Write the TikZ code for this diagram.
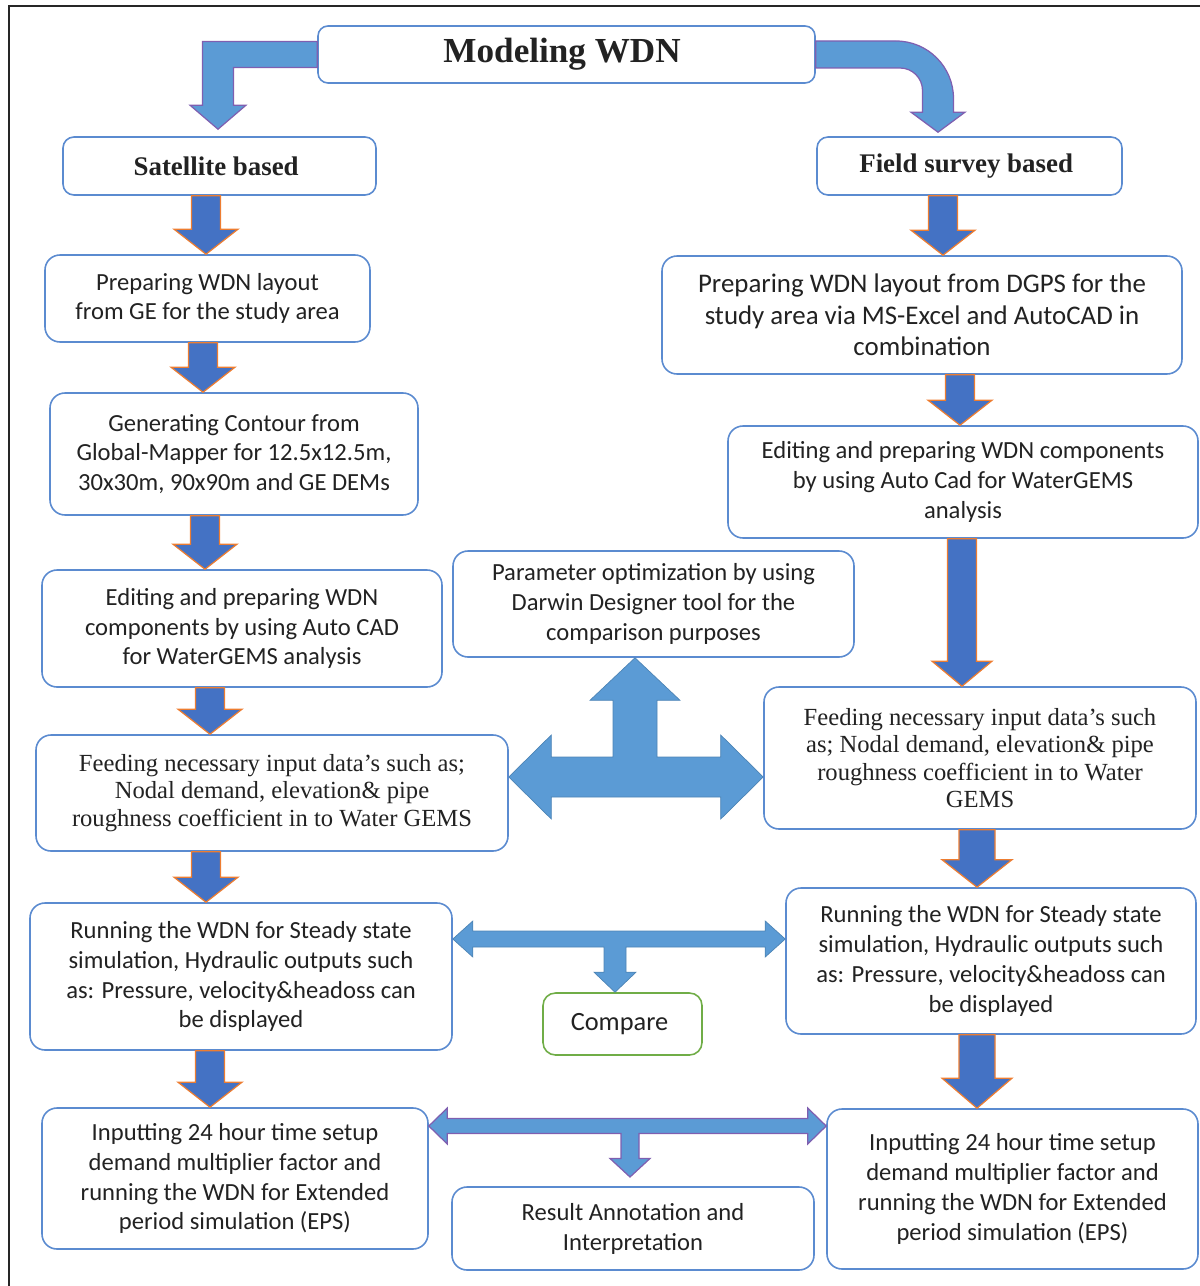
\documentclass[tikz,border=0pt]{standalone}
\usepackage{fontspec}
\setmainfont{Liberation Serif}
\newfontfamily\calfont{Carlito}
\usepackage{xcolor}
\usepackage{tikz}
\usetikzlibrary{positioning, calc}

\definecolor{boxblue}{HTML}{5B8BD0}
\definecolor{textdark}{HTML}{222222}
\definecolor{arrowblue}{HTML}{4472C4}
\definecolor{arroworange}{HTML}{ED7D31}
\definecolor{lightarrow}{HTML}{5B9BD5}
\definecolor{bentedge}{HTML}{7F5FB0}
\definecolor{cmpgreen}{HTML}{70AD47}

\tikzset{
	%
	% Fat down arrow: shaft half width / head half width / head length
	%
	FATDOWN/.style args={#1/#2/#3}{
		to path={
			let \p1=(\tikztostart), \p2=(\tikztotarget) in
			({\x1-#1},\y1) -- ({\x1+#1},\y1) -- ({\x1+#1},{\y2+#3}) -- ({\x1+#2},{\y2+#3})
			-- (\x1,\y2) -- ({\x1-#2},{\y2+#3}) -- ({\x1-#1},{\y2+#3}) -- cycle
		}
	},
}

\tikzstyle{BOX}   = [draw=boxblue,      % color for LINES
                     line width=0.9pt,
                     rounded corners=0.3cm,
                     fill=white,
                     text=textdark,
                     align=center,
                     font=\calfont\fontsize{14}{17}\selectfont]
\tikzstyle{BOXB}  = [BOX, font=\calfont\fontsize{15.3}{18}\selectfont]
\tikzstyle{BOXS}  = [BOX, font=\fontsize{14}{15.6}\selectfont]
\tikzstyle{HEAD}  = [BOX, rounded corners=0.22cm, font=\bfseries\fontsize{15.3}{18}\selectfont]
\tikzstyle{BOXT}  = [BOX, rounded corners=0.2cm, font=\bfseries\fontsize{20}{24}\selectfont]
\tikzstyle{CMP}   = [BOX, draw=cmpgreen, rounded corners=0.25cm, font=\calfont\fontsize{15}{18}\selectfont]
\tikzstyle{DARROW} = [fill=arrowblue, draw=arroworange, line width=0.7pt]
\tikzstyle{BENT}  = [fill=lightarrow, draw=bentedge, line width=0.7pt]
\tikzstyle{TEE}   = [fill=lightarrow, draw=lightarrow!85!black, line width=0.4pt]
\tikzstyle{FRAME} = [draw=black!85, line width=1.2pt]

% left end, right end, stem end, junction, bar half, head half, head length, stem half, stem head half
\newcommand{\teearrow}[9]{%
	\path[TEE] let \p1=(#1), \p2=(#2), \p4=(#4), \p3=(#3 -| #4),
		\p5=($(#3 -| #4)!#7!(#4)$), \n1={ifthenelse(\y3>\y4,1,-1)} in
		(\x1,\y4) -- ({\x1+#7},{\y4-(\n1)*(#6)}) -- ({\x1+#7},{\y4-(\n1)*(#5)})
		-- ({\x2-#7},{\y4-(\n1)*(#5)}) -- ({\x2-#7},{\y4-(\n1)*(#6)}) -- (\x2,\y4)
		-- ({\x2-#7},{\y4+(\n1)*(#6)}) -- ({\x2-#7},{\y4+(\n1)*(#5)})
		-- ({\x4+#8},{\y4+(\n1)*(#5)}) -- ({\x4+#8},\y5) -- ({\x4+#9},\y5) -- (\x3,\y3)
		-- ({\x4-#9},\y5) -- ({\x4-#8},\y5) -- ({\x4-#8},{\y4+(\n1)*(#5)})
		-- ({\x1+#7},{\y4+(\n1)*(#5)}) -- ({\x1+#7},{\y4+(\n1)*(#6)}) -- cycle;}

\begin{document}
\begin{tikzpicture}
		\useasboundingbox (0,0) rectangle (24,-25.72);
		
		% Frame
		\draw[FRAME] (0.18,-25.72) -- (0.18,-0.12) -- (24,-0.12);
		
		% Title
		\node(title)[BOXT, minimum width=9.94cm, minimum height=1.14cm] at (11.33,-1.09)
		{
			Modeling WDN
		};
		
		% The two branches
		\node(sat)[HEAD, below of=title, node distance=2.23cm, xshift=-6.94cm,
		minimum width=6.26cm, minimum height=1.16cm]
		{
			Satellite based
		};
		\node(field)[HEAD, right of=sat, node distance=15cm,
		minimum width=6.1cm, minimum height=1.16cm]
		{
			Field survey based
		};
		
		
		
		% Satellite column
		\node(lay1)[BOX, below of=sat, node distance=2.65cm, xshift=-0.24cm,
		minimum width=6.5cm, minimum height=1.74cm]
		{
			Preparing WDN layout\\
			from GE for the study area
		};
		\node(cont)[BOX, below of=lay1, node distance=3.11cm, xshift=0.53cm,
		minimum width=7.36cm, minimum height=2.44cm]
		{
			Generating Contour from\\
			Global-Mapper for 12.5x12.5m,\\
			30x30m, 90x90m and GE DEMs
		};
		\node(edit1)[BOX, below of=cont, node distance=3.49cm, xshift=0.16cm,
		minimum width=8cm, minimum height=2.34cm]
		{
			Editing and preparing WDN\\
			components by using Auto CAD\\
			for WaterGEMS analysis
		};
		\node(feed1)[BOXS, below of=edit1, node distance=3.29cm, xshift=0.6cm,
		minimum width=9.44cm, minimum height=2.32cm]
		{
			Feeding necessary input data's such as;\\
			Nodal demand, elevation\& pipe\\
			roughness coefficient in to Water GEMS
		};
		\node(run1)[BOX, below of=feed1, node distance=3.67cm, xshift=-0.62cm,
		minimum width=8.44cm, minimum height=2.94cm]
		{
			Running the WDN for Steady state\\
			simulation, Hydraulic outputs such\\
			as: Pressure, velocity\&headoss can\\
			be displayed
		};
		\node(eps1)[BOX, below of=run1, node distance=4.04cm, xshift=-0.12cm,
		minimum width=7.72cm, minimum height=2.82cm]
		{
			Inputting 24 hour time setup\\
			demand multiplier factor and\\
			running the WDN for Extended\\
			period simulation (EPS)
		};
		
		
		
		% Field survey column
		\node(lay2)[BOXB, below of=field, node distance=2.98cm, xshift=-0.95cm,
		minimum width=10.4cm, minimum height=2.36cm]
		{
			Preparing WDN layout from DGPS for the\\
			study area via MS-Excel and AutoCAD in\\
			combination
		};
		\node(edit2)[BOX, below of=lay2, node distance=3.34cm, xshift=0.82cm,
		minimum width=9.4cm, minimum height=2.24cm]
		{
			Editing and preparing WDN components\\
			by using Auto Cad for WaterGEMS\\
			analysis
		};
		\node(feed2)[BOXS, below of=edit2, node distance=5.52cm, xshift=0.34cm,
		minimum width=8.64cm, minimum height=2.84cm]
		{
			Feeding necessary input data's such\\
			as; Nodal demand, elevation\& pipe\\
			roughness coefficient in to Water\\
			GEMS
		};
		\node(run2)[BOX, below of=feed2, node distance=4.06cm, xshift=0.22cm,
		minimum width=8.2cm, minimum height=2.92cm]
		{
			Running the WDN for Steady state\\
			simulation, Hydraulic outputs such\\
			as: Pressure, velocity\&headoss can\\
			be displayed
		};
		\node(eps2)[BOX, below of=run2, node distance=4.56cm, xshift=0.43cm,
		minimum width=7.42cm, minimum height=3.2cm]
		{
			Inputting 24 hour time setup\\
			demand multiplier factor and\\
			running the WDN for Extended\\
			period simulation (EPS)
		};
		
		
		
		% Middle boxes
		\node(param)[BOX, right of=edit1, node distance=8.23cm, yshift=0.49cm,
		minimum width=8.02cm, minimum height=2.12cm]
		{
			Parameter optimization by using\\
			Darwin Designer tool for the\\
			comparison purposes
		};
		\node(compare)[CMP, right of=run1, node distance=7.63cm, yshift=-0.95cm,
		minimum width=3.18cm, minimum height=1.24cm]
		{
			Compare
		};
		\node(result)[BOX, right of=eps1, node distance=7.96cm, yshift=-1cm,
		minimum width=7.24cm, minimum height=1.66cm]
		{
			Result Annotation and\\
			Interpretation
		};
		
		
		
		% Bent arrows from the title
		\coordinate (satbend) at (4.36,-1.09);
		\coordinate (fieldbend) at (18.76,-1.09);
		\path[BENT] let \p1=(title.west), \p2=(satbend), \p3=(sat.north -| satbend) in
			(\x1,{\y2+0.26cm}) -- ({\x2-0.31cm},{\y2+0.26cm}) -- ({\x2-0.31cm},{\y3+0.62cm})
			-- ({\x2-0.56cm},{\y3+0.62cm}) -- (\x2,{\y3+0.14cm}) -- ({\x2+0.56cm},{\y3+0.62cm})
			-- ({\x2+0.31cm},{\y3+0.62cm}) -- ({\x2+0.31cm},{\y2-0.26cm}) -- (\x1,{\y2-0.26cm}) -- cycle;
		\path[BENT] let \p1=(title.east), \p2=(fieldbend), \p3=(field.north -| fieldbend) in
			(\x1,{\y2+0.27cm}) -- ({\x2+0.31cm-1.15cm},{\y2+0.27cm})
			arc[start angle=90, end angle=0, radius=1.15cm]
			-- ({\x2+0.31cm},{\y3+0.48cm}) -- ({\x2+0.54cm},{\y3+0.48cm}) -- (\x2,{\y3+0.08cm})
			-- ({\x2-0.54cm},{\y3+0.48cm}) -- ({\x2-0.31cm},{\y3+0.48cm}) -- ({\x2-0.31cm},{\y2-0.72cm})
			arc[start angle=0, end angle=90, radius=0.45cm]
			-- (\x1,{\y2-0.27cm}) -- cycle;
		
		% Arrows down the satellite column
		\path[DARROW] (sat.south -| 4.12,0) to[FATDOWN=0.29cm/0.64cm/0.5cm] (lay1.north);
		\path[DARROW] (lay1.south -| 4.06,0) to[FATDOWN=0.29cm/0.64cm/0.5cm] (cont.north);
		\path[DARROW] (cont.south -| 4.1,0) to[FATDOWN=0.29cm/0.64cm/0.5cm] (edit1.north);
		\path[DARROW] (edit1.south -| 4.2,0) to[FATDOWN=0.29cm/0.64cm/0.5cm] (feed1.north);
		\path[DARROW] (feed1.south -| 4.12,0) to[FATDOWN=0.29cm/0.64cm/0.5cm] (run1.north);
		\path[DARROW] (run1.south -| 4.2,0) to[FATDOWN=0.29cm/0.64cm/0.5cm] (eps1.north);
		% Arrows down the field survey column
		\path[DARROW] (field.south -| 18.86,0) to[FATDOWN=0.29cm/0.64cm/0.5cm] (lay2.north);
		\path[DARROW] (lay2.south -| 19.2,0) to[FATDOWN=0.29cm/0.64cm/0.5cm] (edit2.north);
		\path[DARROW] (edit2.south -| 19.24,0) to[FATDOWN=0.29cm/0.6cm/0.5cm] (feed2.north);
		\path[DARROW] (feed2.south -| 19.54,0) to[FATDOWN=0.36cm/0.7cm/0.55cm] (run2.north);
		\path[DARROW] (run2.south -| 19.54,0) to[FATDOWN=0.36cm/0.7cm/0.6cm] (eps2.north);
		
		% Feeding boxes <-> parameter optimization
		\coordinate (crossmid) at (12.7,-15.54);
		\teearrow{feed1.east}{feed2.west}{param.south}{crossmid}{0.4cm}{0.84cm}{0.85cm}{0.44cm}{0.9cm}
		% Steady state runs -> compare
		\coordinate (cmpmid) at (12.3,-18.78);
		\teearrow{run1.east}{run2.west}{compare.north}{cmpmid}{0.16cm}{0.36cm}{0.4cm}{0.22cm}{0.42cm}
		% EPS runs -> result
		\coordinate (resmid) at (12.6,-22.52);
		\coordinate (restip) at (12.6,-23.54);
		\begin{scope}[TEE/.append style={draw=bentedge, line width=0.7pt}]
		\teearrow{eps1.east}{eps2.west}{restip}{resmid}{0.15cm}{0.36cm}{0.37cm}{0.18cm}{0.4cm}
		\end{scope}
		
\end{tikzpicture}
\end{document}
